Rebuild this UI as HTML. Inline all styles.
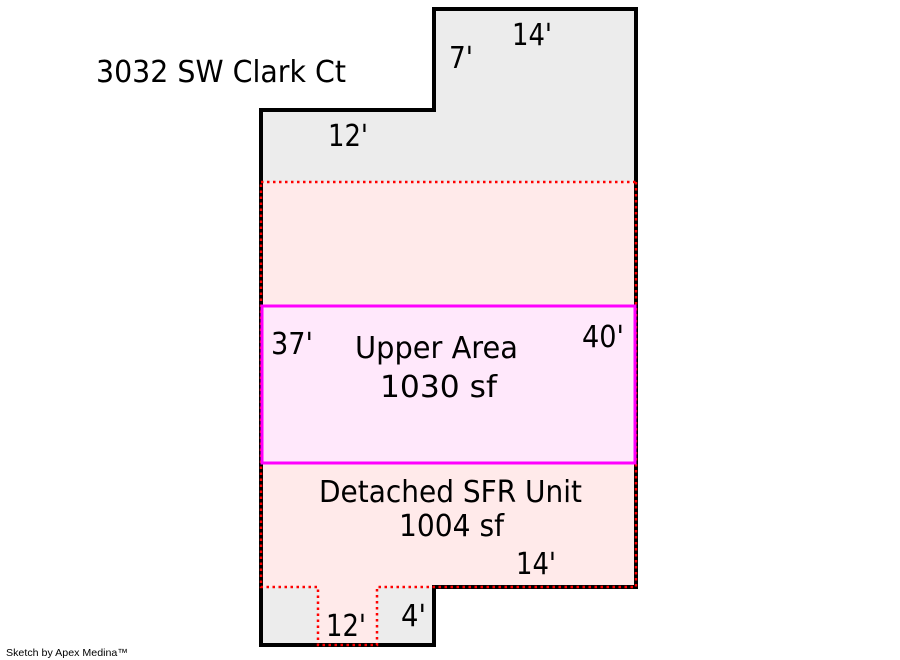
<!DOCTYPE html>
<html><head><meta charset="utf-8"><style>
html,body{margin:0;padding:0;background:#fff;width:900px;height:660px;overflow:hidden}
svg{display:block}
text{font-family:"DejaVu Sans","Liberation Sans",sans-serif;fill:#000}
</style></head><body>
<svg width="900" height="660" viewBox="0 0 900 660" xmlns="http://www.w3.org/2000/svg">
<polygon points="261,110 434,110 434,9 636,9 636,182 261,182" fill="#ececec"/>
<rect x="261" y="587" width="173" height="58" fill="#ececec"/>
<polygon points="261,182 636,182 636,587 377,587 377,645 318,645 318,587 261,587" fill="#ffeaea"/>
<rect x="261" y="305" width="375" height="159" fill="#ffe8fb"/>
<polygon points="261,110 434,110 434,9 636,9 636,587 434,587 434,645 261,645" fill="none" stroke="#000" stroke-width="4"/>
<g fill="none" stroke="#ff0000" stroke-width="2.5" stroke-dasharray="2.5 3.5">
<line x1="261" y1="182" x2="636" y2="182"/>
<polyline points="636,182 636,587 377,587 377,645 318,645 318,587 261,587 261,182"/>
</g>
<rect x="262" y="306" width="373" height="157" fill="none" stroke="#ff00ff" stroke-width="3"/>
<g font-size="30">
<text x="96" y="82" textLength="250" lengthAdjust="spacingAndGlyphs">3032 SW Clark Ct</text>
<text x="512" y="45" textLength="40" lengthAdjust="spacingAndGlyphs">14'</text>
<text x="449" y="68" textLength="24" lengthAdjust="spacingAndGlyphs">7'</text>
<text x="328" y="146" textLength="40" lengthAdjust="spacingAndGlyphs">12'</text>
<text x="271" y="354" textLength="42" lengthAdjust="spacingAndGlyphs">37'</text>
<text x="355" y="358" textLength="163" lengthAdjust="spacingAndGlyphs">Upper Area</text>
<text x="380" y="397" textLength="117" lengthAdjust="spacingAndGlyphs">1030 sf</text>
<text x="582" y="347" textLength="42" lengthAdjust="spacingAndGlyphs">40'</text>
<text x="319" y="502" textLength="263" lengthAdjust="spacingAndGlyphs">Detached SFR Unit</text>
<text x="399" y="536" textLength="105" lengthAdjust="spacingAndGlyphs">1004 sf</text>
<text x="516" y="574" textLength="40" lengthAdjust="spacingAndGlyphs">14'</text>
<text x="326" y="636" textLength="40" lengthAdjust="spacingAndGlyphs">12'</text>
<text x="401" y="626" textLength="25" lengthAdjust="spacingAndGlyphs">4'</text>
</g>
<text x="6" y="656" font-size="10.5" style="font-family:'Liberation Sans',sans-serif" textLength="122" lengthAdjust="spacingAndGlyphs">Sketch by Apex Medina™</text>
</svg>
</body></html>
